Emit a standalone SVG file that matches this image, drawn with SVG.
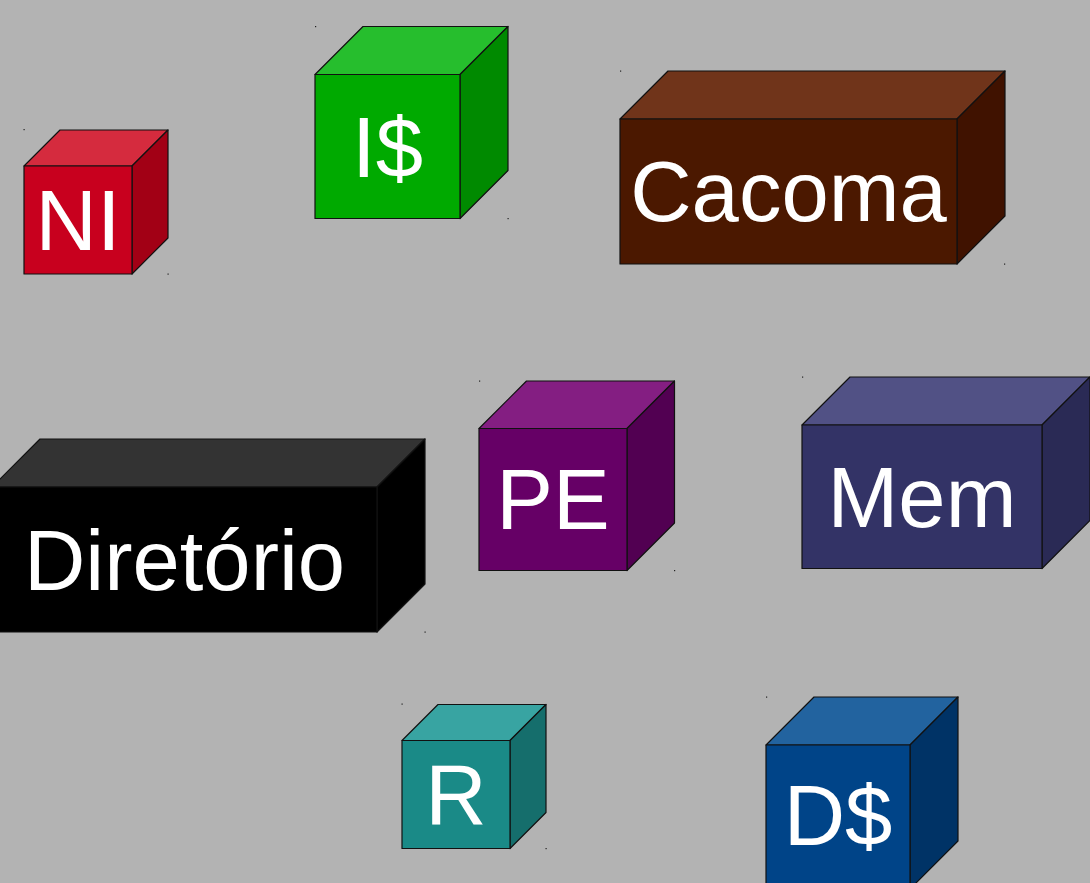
<svg xmlns="http://www.w3.org/2000/svg" width="1090" height="883" viewBox="0 0 1090 883">
<style>
.f{stroke:#111;stroke-width:1.2;stroke-linejoin:round}
.t{font-family:"Liberation Sans",Arial,sans-serif;font-size:85px;fill:#fff;text-anchor:middle}
.dot{fill:#222}
</style>
<rect width="1090" height="883" fill="#b3b3b3"/>
<g id="connectors"></g>
<g id="node-NI">
<polygon class="f" fill="#d52b3e" points="24,166 60,130 168,130 132,166"/>
<polygon class="f" fill="#a20015" points="132,166 168,130 168,238 132,274"/>
<rect class="f" fill="#c8001e" x="24" y="166" width="108" height="108"/>
<text class="t" x="78" y="250">NI</text>
<rect class="dot" x="23.5" y="129" width="1.2" height="1.2"/><rect class="dot" x="167.5" y="273.5" width="1.2" height="1.2"/>
</g>
<g id="node-I">
<polygon class="f" fill="#26be2d" points="315,74.5 363,26.5 508,26.5 460,74.5"/>
<polygon class="f" fill="#008a00" points="460,74.5 508,26.5 508,170.5 460,218.5"/>
<rect class="f" fill="#00aa00" x="315" y="74.5" width="145" height="144"/>
<text class="t" x="387.5" y="177">I$</text>
<rect class="dot" x="315" y="26" width="1.2" height="1.2"/><rect class="dot" x="507.5" y="218" width="1.2" height="1.2"/>
</g>
<g id="node-Cacoma">
<polygon class="f" fill="#70341a" points="620,119 668,71 1005,71 957,119"/>
<polygon class="f" fill="#401200" points="957,119 1005,71 1005,216 957,264"/>
<rect class="f" fill="#4b1800" x="620" y="119" width="337" height="145"/>
<text class="t" x="788.5" y="221">Cacoma</text>
<rect class="dot" x="620" y="70.5" width="1.2" height="1.2"/><rect class="dot" x="1004" y="263.5" width="1.2" height="1.2"/>
</g>
<g id="node-Diretorio">
<polygon class="f" fill="#333333" points="-8,487 40,439 425,439 377,487"/>
<polygon class="f" fill="#000000" points="377,487 425,439 425,584 377,632"/>
<rect class="f" fill="#000000" x="-8" y="487" width="385" height="145"/>
<text class="t" x="184.5" y="589.5">Diretório</text>
<rect class="dot" x="424.5" y="631.5" width="1.2" height="1.2"/>
</g>
<g id="node-PE">
<polygon class="f" fill="#841e82" points="479,428.5 526.5,381 674.5,381 627,428.5"/>
<polygon class="f" fill="#520052" points="627,428.5 674.5,381 674.5,523 627,570.5"/>
<rect class="f" fill="#660066" x="479" y="428.5" width="148" height="142"/>
<text class="t" x="553" y="528.5">PE</text>
<rect class="dot" x="479" y="380.5" width="1.2" height="1.2"/><rect class="dot" x="674" y="570" width="1.2" height="1.2"/>
</g>
<g id="node-Mem">
<polygon class="f" fill="#515185" points="802,425 850,377 1090,377 1042,425"/>
<polygon class="f" fill="#2a2a55" points="1042,425 1090,377 1090,520.5 1042,568.5"/>
<rect class="f" fill="#333366" x="802" y="425" width="240" height="143.5"/>
<text class="t" x="922" y="526.5">Mem</text>
<rect class="dot" x="802" y="376.5" width="1.2" height="1.2"/>
</g>
<g id="node-R">
<polygon class="f" fill="#38a4a2" points="402,740.5 438,704.5 546,704.5 510,740.5"/>
<polygon class="f" fill="#156e6c" points="510,740.5 546,704.5 546,812.5 510,848.5"/>
<rect class="f" fill="#1a8a87" x="402" y="740.5" width="108" height="108"/>
<text class="t" x="456" y="823.5">R</text>
<rect class="dot" x="401.5" y="703.5" width="1.2" height="1.2"/><rect class="dot" x="545.5" y="848" width="1.2" height="1.2"/>
</g>
<g id="node-D">
<polygon class="f" fill="#22639f" points="766,745 814,697 958,697 910,745"/>
<polygon class="f" fill="#003366" points="910,745 958,697 958,841 910,889"/>
<rect class="f" fill="#004488" x="766" y="745" width="144" height="144"/>
<text class="t" x="838" y="845">D$</text>
<rect class="dot" x="766" y="696.5" width="1.2" height="1.2"/>
</g>
</svg>
